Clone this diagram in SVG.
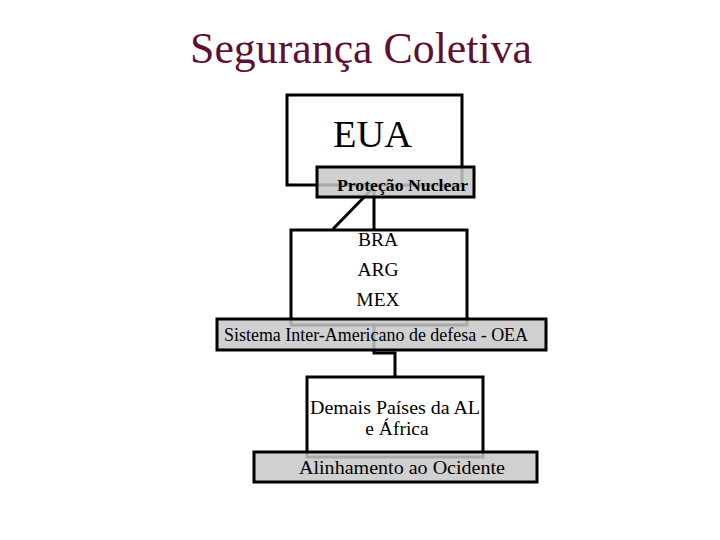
<svg xmlns="http://www.w3.org/2000/svg" width="720" height="540" viewBox="0 0 720 540">
<style>
.box{fill:#fff;stroke:#000;stroke-width:3}
.band{fill:#c8c8c8;fill-opacity:0.85;stroke:#000;stroke-width:3}
.t{font-family:"Liberation Serif","Times New Roman",serif;fill:#000;text-anchor:middle}
.c{fill:none;stroke:#000;stroke-width:3}
</style>
<rect width="720" height="540" fill="#fff"/>
<text class="t" x="361" y="63" font-size="45" style="fill:#5e0f35" textLength="342" lengthAdjust="spacingAndGlyphs">Segurança Coletiva</text>
<g id="eua">
<rect class="box" x="287" y="95" width="175" height="90"/>
<text class="t" x="372.5" y="147" font-size="38" textLength="79" lengthAdjust="spacingAndGlyphs">EUA</text>
</g>
<g id="connectors">
<line class="c" x1="333" y1="229" x2="372" y2="189"/>
<line class="c" x1="374" y1="189" x2="374" y2="229"/>
<polyline class="c" points="374,325 374,353 395,353 395,377"/>
</g>
<g id="protecao">
<rect class="band" x="317" y="167" width="157" height="30"/>
<text class="t" x="402.5" y="191" font-size="17.5" font-weight="bold" textLength="131" lengthAdjust="spacingAndGlyphs">Proteção Nuclear</text>
</g>
<g id="bra">
<rect class="box" x="291" y="230" width="176" height="95"/>
<text class="t" x="378" y="246" font-size="19.5">BRA</text>
<text class="t" x="378" y="276" font-size="19.5">ARG</text>
<text class="t" x="378" y="306" font-size="19.5">MEX</text>
</g>
<g id="oea">
<rect class="band" x="217" y="319" width="329" height="31"/>
<text class="t" x="376" y="341" font-size="18" textLength="304" lengthAdjust="spacingAndGlyphs">Sistema Inter-Americano de defesa - OEA</text>
</g>
<g id="demais">
<rect class="box" x="307" y="377" width="176" height="80"/>
<text class="t" x="395" y="414" font-size="19.5" textLength="170" lengthAdjust="spacingAndGlyphs">Demais Países da AL</text>
<text class="t" x="397" y="435" font-size="19.5">e África</text>
</g>
<g id="alinhamento">
<rect class="band" x="254" y="452" width="283" height="30"/>
<text class="t" x="402" y="474" font-size="18.5" textLength="206" lengthAdjust="spacingAndGlyphs">Alinhamento ao Ocidente</text>
</g>
</svg>
